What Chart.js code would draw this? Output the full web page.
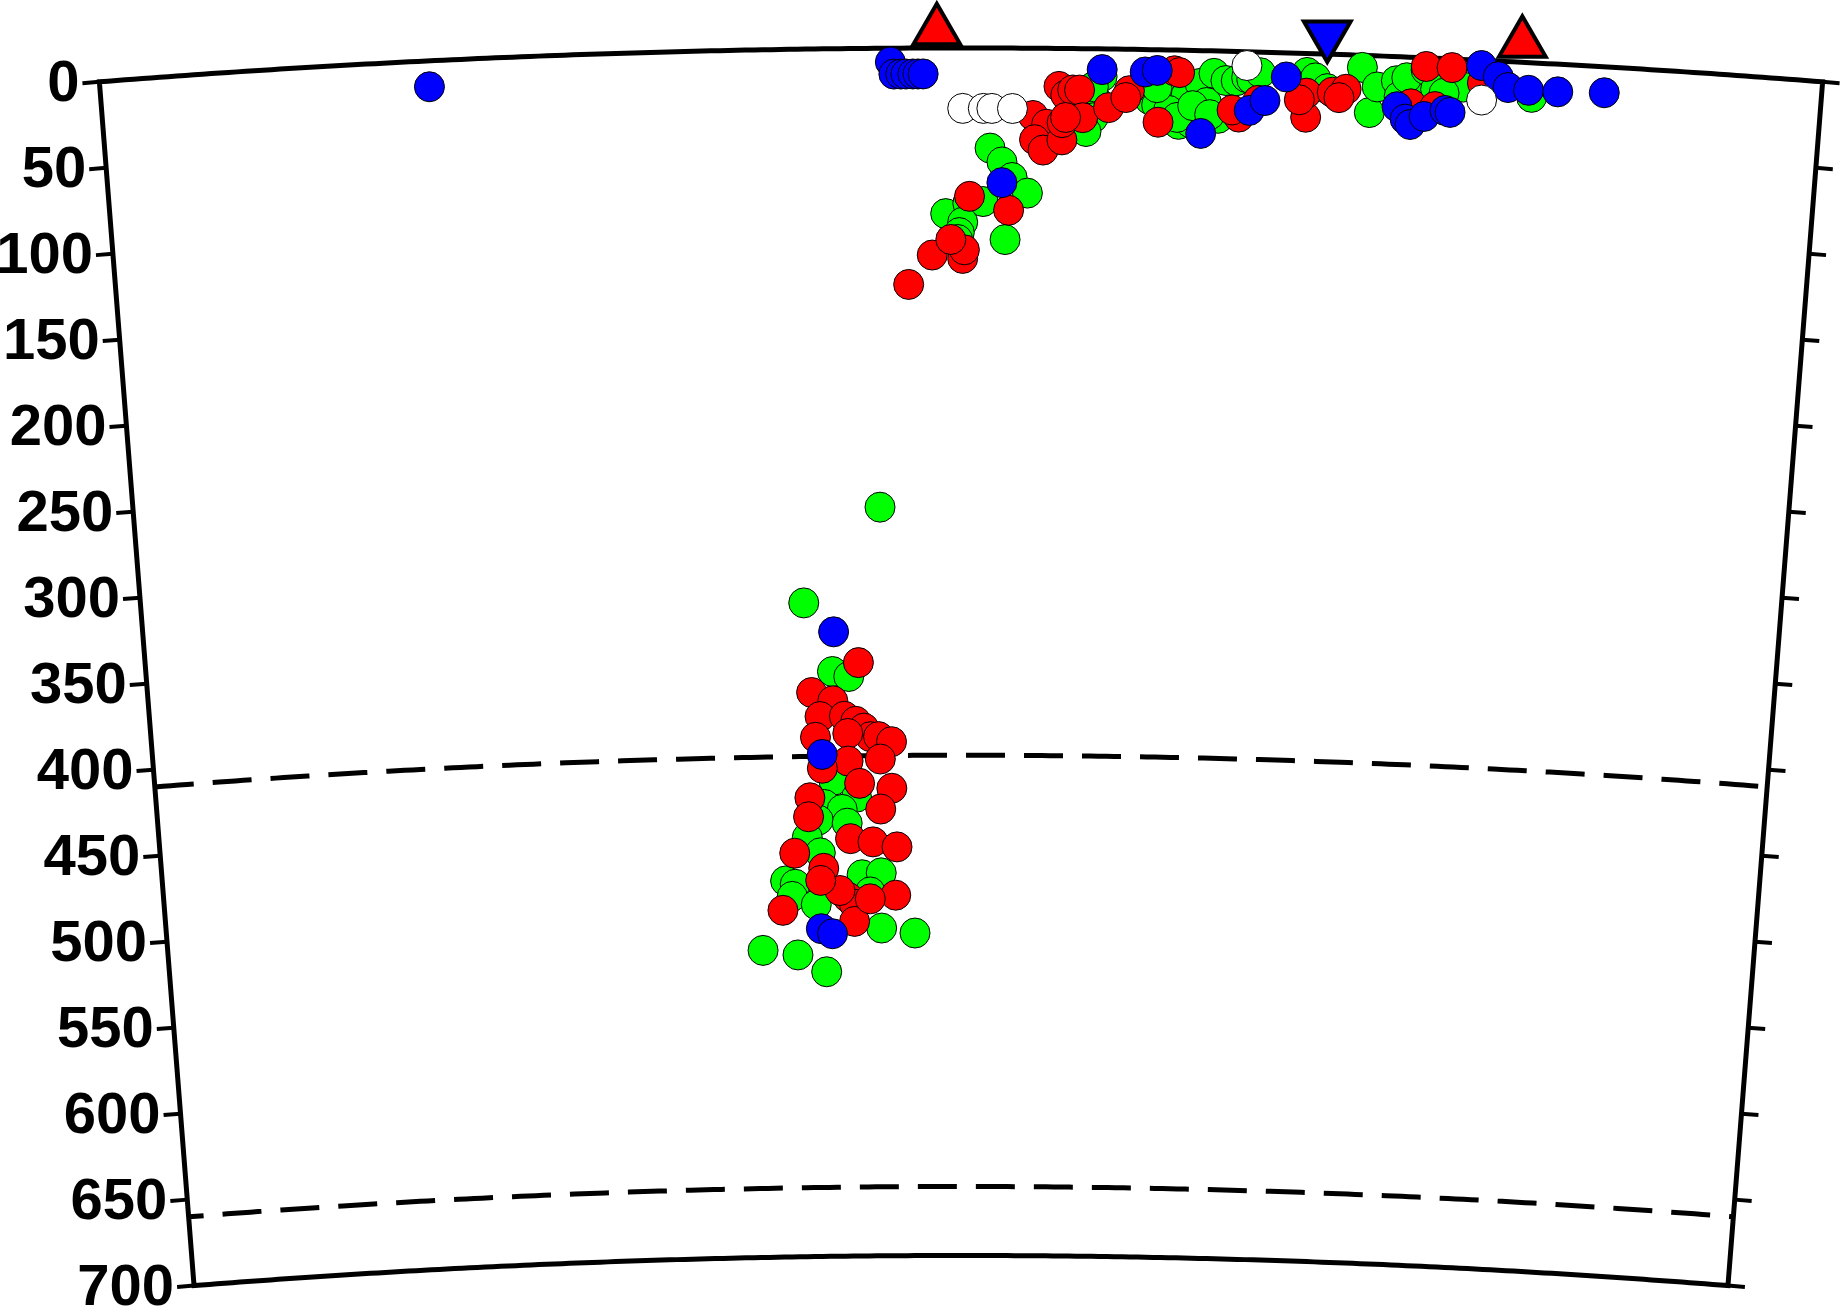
<!DOCTYPE html>
<html>
<head>
<meta charset="utf-8">
<script src="https://cdn.jsdelivr.net/npm/chart.js@4"></script>
<style>
html,body{margin:0;padding:0;background:#fff;}
#c{display:block;}
</style>
</head>
<body>
<canvas id="c" width="1843" height="1309"></canvas>
<script>
// ---------------- DATA ----------------
const R_EARTH = 6371;          // km
const PROFILE_LENGTH = 1000;   // km along surface
const depthTicks = [0,50,100,150,200,250,300,350,400,450,500,550,600,650,700];
const discontinuityDepths = [410, 660];
const MAX_DEPTH = 700;

// white events: distance (km), depth (km)
const whiteDist  = [501, 513, 518, 530, 666, 803];
const whiteDepth = [ 35,  35,  35,  35,   8,  23];

// blue events
const blueDist  = [191, 459, 461, 465, 468, 472, 475, 478, 524, 582, 607, 614, 640, 668, 677, 689,
                   754, 759, 762, 770, 782, 785, 802, 812, 818, 830, 847, 874,
                   422, 414, 412, 419];
const blueDepth = [ 15,   8,  15,  15,  15,  15,  15,  15,  78,  12,  13,  12,  48,  34,  28,  14,
                    29,  36,  39,  34,  30,  31,   3,   9,  15,  16,  16,  15,
                   338, 409, 510, 513];

// red events
const redDist  = [542, 550, 543, 548, 559, 559, 557, 561, 565, 569, 571, 561, 586, 598, 596, 615, 624, 627, 662,
                  528, 505, 483, 501, 502, 469, 494,
                  701, 701, 716, 724, 720, 762, 770, 785, 803, 776, 697, 658, 673,
                  437, 408, 421, 413, 428, 435, 440, 444, 449, 457, 410, 430, 450, 430, 414, 437, 457,
                  450, 406, 405, 431, 445, 460, 396, 414, 459, 388, 429, 433, 433, 424, 443, 412];
const redDepth = [ 39,  44,  53,  59,  53,  43,  22,  27,  24,  24,  40,  40,  34,  24,  28,  42,  12,  13,  38,
                   94,  86, 120, 122, 117, 137, 111,
                   37,  23,  22,  20,  25,  27,   5,   5,  13,  28,  27,  34,  28,
                  356, 373, 378, 387, 387, 390, 394, 399, 399, 402, 399, 397, 412, 413, 417, 426, 429,
                  441, 434, 445, 458, 460, 463, 466, 475, 491, 499, 492, 496, 506, 488, 493, 482];

// green events
const greenDist  = [582, 579, 577, 573, 577, 517, 524, 530, 539, 491, 504, 513, 501, 499, 498, 526, 610, 621,
                    614, 625, 627, 627, 634, 631, 639, 643, 647, 650, 654, 660, 666, 669, 674, 701, 706, 713,
                    733, 738, 742, 753, 755, 774, 784, 779, 766, 759, 770, 778, 776, 792, 832, 621,
                    614, 626, 635, 645, 781,
                    451, 404, 421, 431, 422, 421, 435, 415, 426, 411, 429, 404, 412, 390, 396, 394, 409,
                    438, 450, 443, 450, 471, 375, 397, 415];
const greenDepth = [ 16,  30,  40,  48,  22,  58,  66,  75,  84,  96,  90,  89, 101, 107, 111, 111,  29,  23,
                     32,  37,  20,  43,  42,  26,  19,  30,  13,  39,  17,  17,  15,  16,  12,  11,  14,  20,
                      7,  33,  18,  14,  23,  10,  16,  24,  21,  12,   7,   9,  18,  16,  20,  35,
                     22,  39,  32,  37,  20,
                    266, 321, 361, 364, 420, 424, 434, 438, 441, 447, 449, 457, 466, 482, 484, 491, 496,
                    479, 478, 489, 510, 513, 522, 525, 535];

// surface markers (depth negative = above surface)
const volcanoDist  = [486, 825];
const volcanoDepth = [-10, -11];
const trenchDist   = [712];
const trenchDepth  = [-11];

// ---------------- GEOMETRY ----------------
const W = 1843, H = 1309;
const PX_PER_KM = 1.725;
const CENTER_X_PX = 961;
const SURFACE_Y_PX = 48;

function toXY(s, d) {
  const phi = (s - PROFILE_LENGTH / 2) / R_EARTH;
  const r = R_EARTH - d;
  return { x: r * Math.sin(phi), y: r * Math.cos(phi) };
}
function series(dist, depth) { return dist.map((s, i) => toXY(s, depth[i])); }

const X_MIN = -CENTER_X_PX / PX_PER_KM;
const X_MAX = (W - CENTER_X_PX) / PX_PER_KM;
const Y_MAX = R_EARTH + SURFACE_Y_PX / PX_PER_KM;
const Y_MIN = Y_MAX - H / PX_PER_KM;

const TICK_LEN = 17;

const framePlugin = {
  id: 'frame',
  beforeDraw(chart) {
    const ctx = chart.ctx;
    ctx.save();
    ctx.fillStyle = '#ffffff';
    ctx.fillRect(0, 0, chart.width, chart.height);
    ctx.restore();
  },
  beforeDatasetsDraw(chart) {
    const ctx = chart.ctx, xs = chart.scales.x, ys = chart.scales.y;
    const P = (s, d) => { const p = toXY(s, d); return [xs.getPixelForValue(p.x), ys.getPixelForValue(p.y)]; };
    const arcPath = (d, start) => {
      for (let s = 0; s <= PROFILE_LENGTH; s += 5) {
        const [x, y] = P(s, d);
        if (s === 0 && start) ctx.moveTo(x, y); else ctx.lineTo(x, y);
      }
    };
    ctx.save();
    ctx.strokeStyle = '#000';
    ctx.lineCap = 'butt';
    ctx.lineJoin = 'miter';

    // discontinuities (dashed)
    ctx.lineWidth = 5;
    ctx.setLineDash([39, 19]);
    discontinuityDepths.forEach((d, i) => {
      ctx.lineDashOffset = i ? 24 : 0;
      ctx.beginPath();
      arcPath(d, true);
      ctx.stroke();
    });
    ctx.setLineDash([]);
    ctx.lineDashOffset = 0;

    // frame
    ctx.lineWidth = 5;
    ctx.beginPath();
    arcPath(0, true);
    const [brx, bry] = P(PROFILE_LENGTH, MAX_DEPTH);
    ctx.lineTo(brx, bry);
    for (let s = PROFILE_LENGTH; s >= 0; s -= 5) { const [x, y] = P(s, MAX_DEPTH); ctx.lineTo(x, y); }
    ctx.closePath();
    ctx.stroke();

    // ticks and labels
    const phiL = -PROFILE_LENGTH / 2 / R_EARTH, phiR = -phiL;
    ctx.lineWidth = 4;
    ctx.font = 'bold 58px "Liberation Sans", Arial, Helvetica, sans-serif';
    ctx.textAlign = 'right';
    ctx.textBaseline = 'middle';
    ctx.fillStyle = '#000';
    depthTicks.forEach(d => {
      const [lx, ly] = P(0, d);
      const ex = lx - TICK_LEN * Math.cos(phiL), ey = ly - TICK_LEN * Math.sin(phiL);
      ctx.beginPath(); ctx.moveTo(lx, ly); ctx.lineTo(ex, ey); ctx.stroke();
      const [rx, ry] = P(PROFILE_LENGTH, d);
      const fx = rx + TICK_LEN * Math.cos(phiR), fy = ry + TICK_LEN * Math.sin(phiR);
      ctx.beginPath(); ctx.moveTo(rx, ry); ctx.lineTo(fx, fy); ctx.stroke();
      ctx.fillText(String(d), ex - 3, ey + 2);
    });
    ctx.restore();
  }
};

const circle = (label, dist, depth, color) => ({
  label, data: series(dist, depth),
  backgroundColor: color, borderColor: '#000', borderWidth: 1,
  pointRadius: 15, pointHoverRadius: 15, clip: false
});

new Chart(document.getElementById('c'), {
  type: 'scatter',
  data: {
    datasets: [
      circle('white', whiteDist, whiteDepth, '#ffffff'),
      circle('blue', blueDist, blueDepth, '#0000ff'),
      circle('red', redDist, redDepth, '#ff0000'),
      circle('green', greenDist, greenDepth, '#00ff00'),
      { label: 'volcano', data: series(volcanoDist, volcanoDepth), pointStyle: 'triangle',
        backgroundColor: '#ff0000', borderColor: '#000', borderWidth: 4, pointRadius: 27, clip: false },
      { label: 'trench', data: series(trenchDist, trenchDepth), pointStyle: 'triangle', rotation: 180,
        backgroundColor: '#0000ff', borderColor: '#000', borderWidth: 4, pointRadius: 27, clip: false }
    ]
  },
  options: {
    responsive: false,
    devicePixelRatio: 1,
    animation: false,
    events: [],
    layout: { padding: 0, autoPadding: false },
    plugins: { legend: { display: false }, tooltip: { enabled: false } },
    scales: {
      x: { type: 'linear', display: false, min: X_MIN, max: X_MAX },
      y: { type: 'linear', display: false, min: Y_MIN, max: Y_MAX }
    }
  },
  plugins: [framePlugin]
});
</script>
</body>
</html>
